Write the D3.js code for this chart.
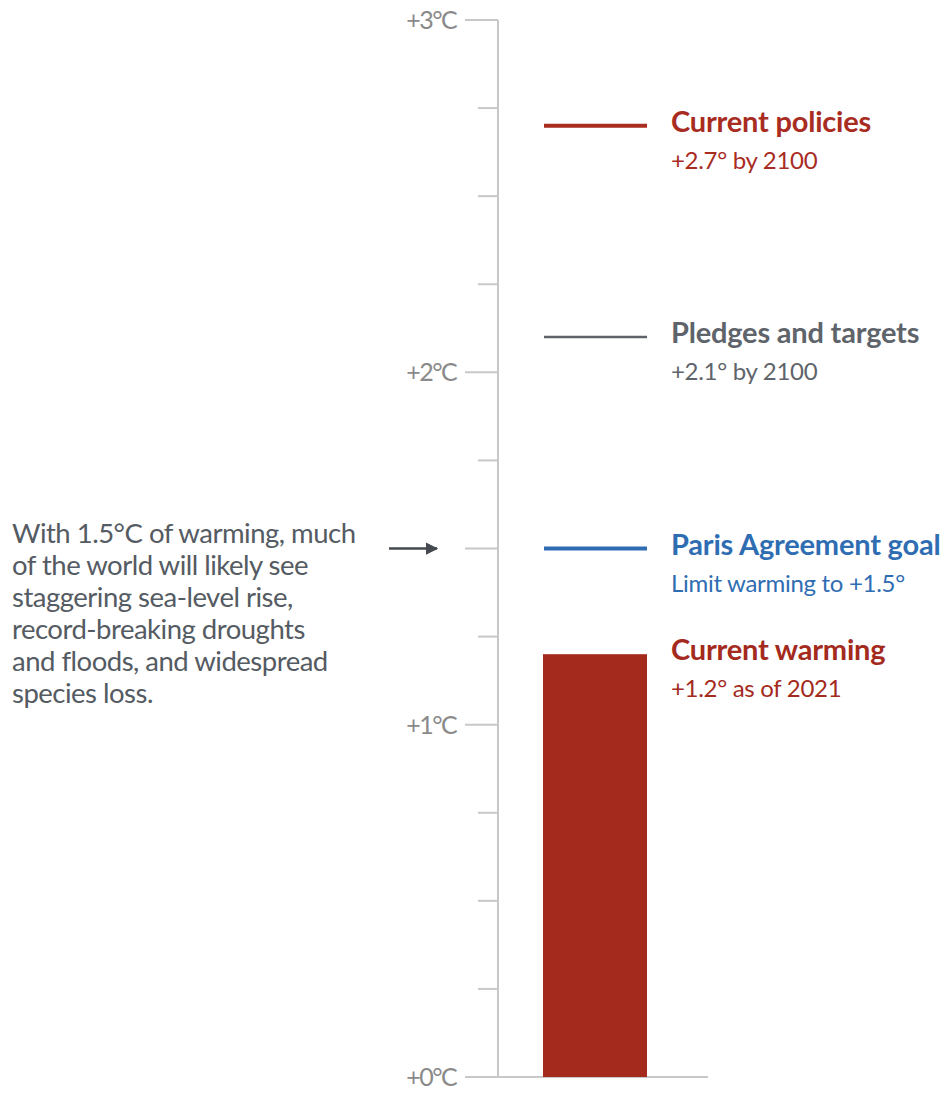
<!doctype html>
<html lang="en">
<head>
  <meta charset="utf-8">
  <title>Warming scenarios</title>
  <style>
    body { margin: 0; background: #fff; }
    text { font-family: Lato, "Open Sans", sans-serif; }
  </style>
  <script src="https://d3js.org/d3.v7.min.js"></script>
</head>
<body>
  <div id="chart"></div>
  <script>
    // values
    const tickValues = [0, 1, 2, 3];
    const tickLabels = ["+0°C", "+1°C", "+2°C", "+3°C"];
    const minorTicks = [0.25, 0.5, 0.75, 1.25, 1.5, 1.75, 2.25, 2.5, 2.75];

    const lineNames = ["Current policies", "Pledges and targets", "Paris Agreement goal"];
    const lineSubs = ["+2.7° by 2100", "+2.1° by 2100", "Limit warming to +1.5°"];
    const lineValues = [2.7, 2.1, 1.5];
    const lineColors = ["#a82c1f", "#5f646b", "#2f6db3"];
    const lineWidths = [4, 2.5, 4];

    const barName = "Current warming";
    const barSub = "+1.2° as of 2021";
    const barValue = 1.2;
    const barColor = "#a32a1d";

    const noteLines = [
      "With 1.5°C of warming, much",
      "of the world will likely see",
      "staggering sea-level rise,",
      "record-breaking droughts",
      "and floods, and widespread",
      "species loss."
    ];
    const noteValue = 1.5;

    const width = 945, height = 1093;
    const axisX = 498;

    const svg = d3.select("#chart").append("svg")
      .attr("width", width)
      .attr("height", height);

    const y = d3.scaleLinear().domain([0, 3]).range([1077, 20]);

    // axis line
    svg.append("line")
      .attr("x1", axisX).attr("x2", axisX)
      .attr("y1", y(3)).attr("y2", y(0))
      .attr("stroke", "#c8c8c8").attr("stroke-width", 2);

    // baseline
    svg.append("line")
      .attr("x1", 465).attr("x2", 708)
      .attr("y1", y(0)).attr("y2", y(0))
      .attr("stroke", "#c8c8c8").attr("stroke-width", 2);

    // major ticks
    svg.selectAll(".major").data(tickValues.filter(d => d > 0))
      .enter().append("line")
      .attr("x1", 465).attr("x2", axisX)
      .attr("y1", d => y(d)).attr("y2", d => y(d))
      .attr("stroke", "#c8c8c8").attr("stroke-width", 2);

    // minor ticks (the 1.5 one is longer)
    svg.selectAll(".minor").data(minorTicks)
      .enter().append("line")
      .attr("x1", d => d === noteValue ? 465 : 478).attr("x2", axisX)
      .attr("y1", d => y(d)).attr("y2", d => y(d))
      .attr("stroke", "#c8c8c8").attr("stroke-width", 2);

    svg.selectAll(".tlabel").data(tickValues)
      .enter().append("text")
      .attr("x", 456)
      .attr("y", d => y(d) + 9)
      .attr("text-anchor", "end")
      .attr("font-size", 25)
      .attr("letter-spacing", -1.6)
      .attr("fill", "#8a8a8a")
      .text((d, i) => tickLabels[i]);

    // bar
    svg.append("rect")
      .attr("x", 543).attr("width", 104)
      .attr("y", y(barValue))
      .attr("height", y(0) - y(barValue))
      .attr("fill", barColor);

    // scenario lines
    svg.selectAll(".scen").data(lineValues)
      .enter().append("line")
      .attr("x1", 544).attr("x2", 647)
      .attr("y1", d => y(d)).attr("y2", d => y(d))
      .attr("stroke", (d, i) => lineColors[i])
      .attr("stroke-width", (d, i) => lineWidths[i]);

    // labels
    const labelData = lineValues.map((v, i) => ({ v: v, name: lineNames[i], sub: lineSubs[i], color: lineColors[i] }));
    labelData.push({ v: barValue, name: barName, sub: barSub, color: barColor });

    labelData.forEach(d => {
      svg.append("text")
        .attr("x", 671).attr("y", y(d.v) + 6)
        .attr("font-size", 29).attr("font-weight", 700)
        .attr("letter-spacing", -0.2)
        .attr("fill", d.color)
        .text(d.name);
      svg.append("text")
        .attr("x", 671).attr("y", y(d.v) + 43)
        .attr("font-size", 24)
        .attr("letter-spacing", -0.3)
        .attr("fill", d.color)
        .text(d.sub);
    });

    // note on the left
    svg.append("text")
      .attr("x", 12).attr("y", y(noteValue) - 6)
      .attr("font-size", 27.5)
      .attr("letter-spacing", -0.5)
      .attr("fill", "#555b62")
      .selectAll("tspan").data(noteLines)
      .enter().append("tspan")
      .attr("x", 12)
      .attr("dy", (d, i) => i === 0 ? 0 : 32)
      .text(d => d);

    // arrow
    svg.append("defs").append("marker")
      .attr("id", "arrow")
      .attr("viewBox", "0 0 10 10")
      .attr("refX", 9).attr("refY", 5)
      .attr("markerWidth", 5).attr("markerHeight", 5)
      .attr("orient", "auto")
      .append("path").attr("d", "M0,0L10,5L0,10Z").attr("fill", "#454a50");

    svg.append("line")
      .attr("x1", 389).attr("x2", 437)
      .attr("y1", y(noteValue)).attr("y2", y(noteValue))
      .attr("stroke", "#454a50").attr("stroke-width", 2.5)
      .attr("marker-end", "url(#arrow)");
  </script>
</body>
</html>
